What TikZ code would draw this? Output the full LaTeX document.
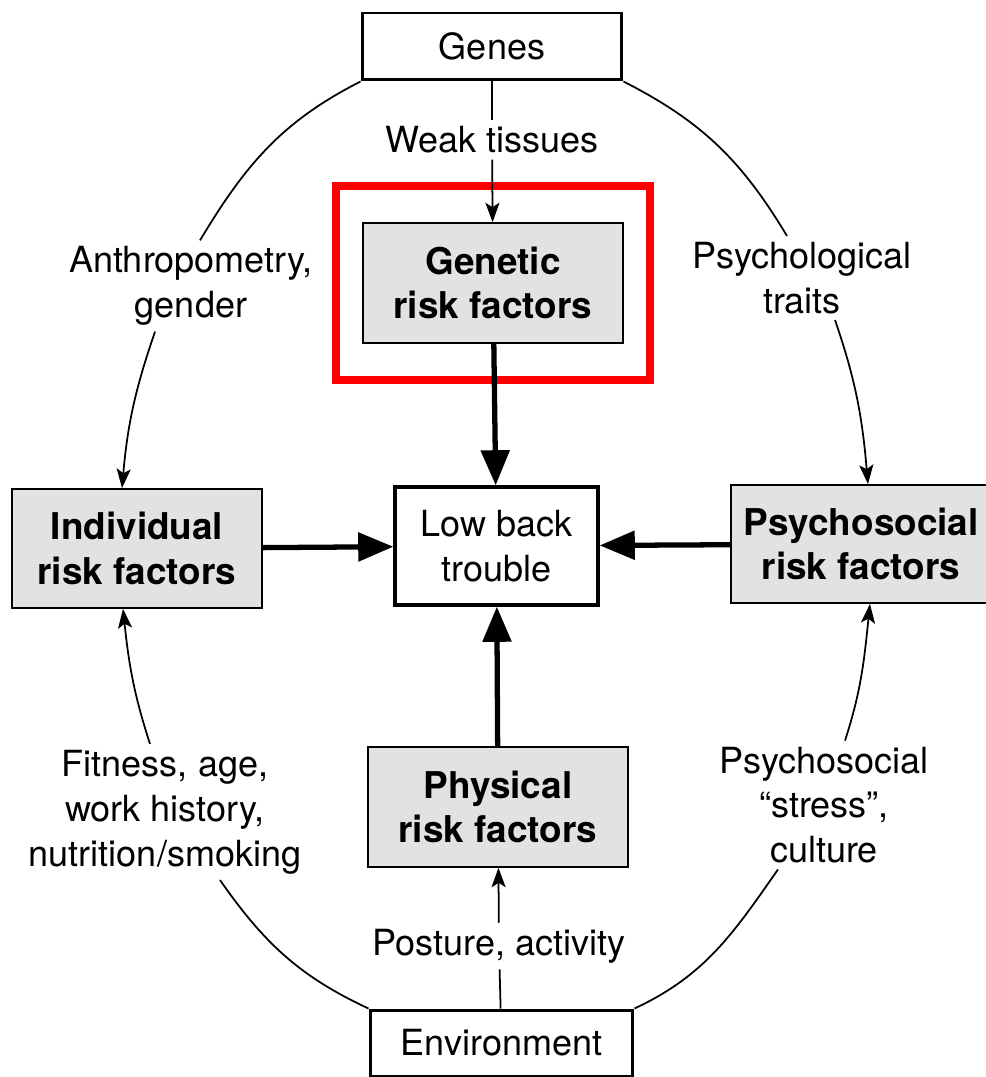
\documentclass[tikz,border=0pt]{standalone}
\usepackage{fontspec}
\setmainfont{TeX Gyre Heros}
\usetikzlibrary{arrows.meta,fit}
\definecolor{boxgray}{RGB}{226,226,226}
\begin{document}
\begin{tikzpicture}[x=0.02cm,y=0.02cm,
    txt/.style={font=\fontsize{20.5}{25.5}\selectfont,align=center},
    factor/.style={draw,line width=1pt,fill=boxgray,minimum width=5.2cm,minimum height=2.4cm,
        align=center,font=\bfseries\fontsize{21}{25.5}\selectfont},
    source/.style={txt,draw,line width=1.7pt,fill=white,minimum width=5.2cm,minimum height=1.34cm},
    rim/.style={line width=1pt},
    feed/.style={rim,-{Stealth[length=11pt,width=8pt,inset=2.5pt]}},
    push/.style={line width=3pt,-{Triangle[length=20pt,width=16pt]}}]
\useasboundingbox (0,0) rectangle (985,-1077);
% boxes
\node[source] (genes) at (492,-46.5) {Genes};
\node[factor] (genetic) at (493,-283) {Genetic\\risk factors};
\node[source,line width=1.9pt,minimum width=4.06cm,minimum height=2.36cm] (lowback) at (496.5,-546) {Low back\\trouble};
\node[factor,minimum width=5cm,minimum height=2.38cm] (individual) at (137,-548.5) {Individual\\risk factors};
\node[factor,minimum height=2.36cm] (psychosocial) at (861,-544) {Psychosocial\\risk factors};
\node[factor] (physical) at (498,-807) {Physical\\risk factors};
\node[source,minimum width=5.26cm,minimum height=1.32cm] (environment) at (501.5,-1043) {Environment};
\node[draw=red,line width=4.5pt,fit=(genetic),inner xsep=0.53cm,inner ysep=0.73cm] (highlight) {};
% labels
\node[txt] (weak) at (492,-140) {Weak tissues};
\node[txt] (posture) at (499,-946) {Posture, activity};
\node[txt] (anthro) at (191,-286) {Anthropometry,\\gender};
\node[txt] (traits) at (802,-278) {Psychological\\traits};
\node[txt] (fitness) at (165,-812) {Fitness, age,\\work history,\\nutrition/smoking};
\node[txt] (stress) at (824,-805) {Psychosocial\\“stress”,\\culture};
% straight feeds
\draw[rim] (genes) -- (weak);
\draw[feed] (weak) -- (genetic);
\draw[rim] (environment) -- (posture);
\draw[feed] (posture) -- (physical);
% outer ring
\draw[rim] (genes.south west) to[out=207,in=59] ([xshift=0.18cm]anthro.north);
\draw[feed] ([xshift=-0.72cm]anthro.south) to[out=251,in=85] ([xshift=-0.3cm]individual.north);
\draw[rim] (genes.south east) to[out=-27,in=121] ([xshift=-0.3cm]traits.north);
\draw[feed] ([xshift=0.66cm]traits.south) to[out=-71,in=95] ([xshift=0.14cm]psychosocial.north);
\draw[feed] ([xshift=-0.3cm]fitness.north) to[out=108,in=276] ([xshift=-0.28cm]individual.south);
\draw[rim] ([xshift=1.1cm]fitness.south) to[out=-55,in=155] (environment.north west);
\draw[feed] ([xshift=0.42cm]stress.north) to[out=72,in=264] ([xshift=0.18cm]psychosocial.south);
\draw[rim] ([xshift=-0.92cm]stress.south) to[out=235,in=25] (environment.north east);
% into low back trouble
\draw[push] (genetic) -- (lowback);
\draw[push] (individual) -- (lowback);
\draw[push] (psychosocial) -- (lowback);
\draw[push] (physical) -- (lowback);
\end{tikzpicture}
\end{document}
